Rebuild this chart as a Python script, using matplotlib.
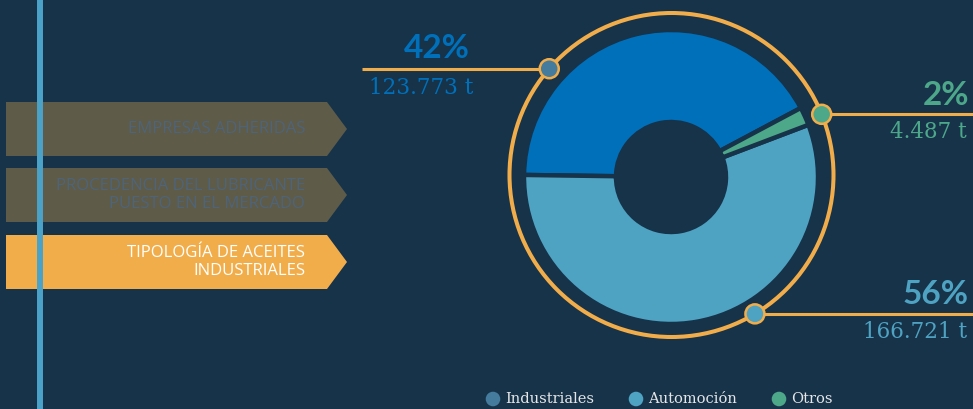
import numpy as np
import matplotlib.pyplot as plt
from matplotlib.patches import Polygon, Circle

# data
categories = ['Industriales', 'Automoción', 'Otros']
percent = [42, 56, 2]
tonnes = ['123.773 t', '166.721 t', '4.487 t']
slice_colors = ['#0070BA', '#4FA3C2', '#4DA88A']
legend_colors = ['#457B9D', '#4FA3C2', '#4DA88A']

menu_items = ['EMPRESAS ADHERIDAS',
              'PROCEDENCIA DEL LUBRICANTE\nPUESTO EN EL MERCADO',
              'TIPOLOGÍA DE ACEITES\nINDUSTRIALES']
menu_active = [False, False, True]

BG = '#16334A'
ORANGE = '#F2AD4B'
W, H = 973, 409

fig = plt.figure(figsize=(W / 100, H / 100), dpi=100, facecolor=BG)
ax = fig.add_axes([0, 0, 1, 1])
ax.set_facecolor(BG)


def Y(y):
    # image row -> data y
    return H - y


# donut
cx, cy = 671, Y(177)
ax.pie(percent, colors=slice_colors, startangle=28, counterclock=True,
       center=(cx, cy), radius=147, frame=True,
       wedgeprops=dict(width=92, edgecolor=BG, linewidth=3.2))

# orange ring
rcx, rcy, rr = 671.5, Y(175), 162
ax.add_patch(Circle((rcx, rcy), rr, fill=False, edgecolor=ORANGE, lw=2.9, zorder=3))

# callouts: marker angle on ring, line end x
marker_angle = [139, 301, 22]
line_end = [362, 973, 973]
for i in range(3):
    a = np.deg2rad(marker_angle[i])
    mx, my = rcx + rr * np.cos(a), rcy + rr * np.sin(a)
    ax.plot([mx, line_end[i]], [my, my], color=ORANGE, lw=2.2, zorder=4,
            solid_capstyle='butt')
    ax.add_patch(Circle((mx, my), 9.5, facecolor=legend_colors[i],
                        edgecolor=ORANGE, lw=1.8, zorder=5))
    pct_col = slice_colors[i]
    if i == 0:
        ax.text(437, my + 20, f'{percent[i]}%', ha='center', va='center',
                fontsize=24, fontweight='bold', family='Lato', color=pct_col)
        ax.text(369, my - 19, tonnes[i], ha='left', va='center',
                fontsize=15.5, family='DejaVu Serif', color=pct_col)
    else:
        ax.text(969, my + 19, f'{percent[i]}%', ha='right', va='center',
                fontsize=24, fontweight='bold', family='Lato', color=pct_col)
        ax.text(967, my - 18, tonnes[i], ha='right', va='center',
                fontsize=15.5, family='DejaVu Serif', color=pct_col)

# side menu arrows
tops = [102, 168, 235]
bh = 54
for top, label, active in zip(tops, menu_items, menu_active):
    y0, y1 = Y(top), Y(top + bh)
    ym = (y0 + y1) / 2
    poly = Polygon([(6, y0), (327, y0), (347, ym), (327, y1), (6, y1)],
                   closed=True, facecolor=ORANGE if active else '#5E5B49',
                   edgecolor='none', zorder=2)
    ax.add_patch(poly)
    ax.text(305, ym, label, ha='right', va='center', ma='right',
            fontsize=12, family='Open Sans', linespacing=1.2,
            color='white' if active else '#4E6479', zorder=3)

ax.plot([40, 40], [0, H], color='#4BA2C8', lw=4.3, zorder=6, solid_capstyle='butt')

# legend
leg_x = [493, 636, 779]
for x, name, col in zip(leg_x, categories, legend_colors):
    ax.scatter([x], [Y(399)], s=110, color=col, edgecolors='none', zorder=5)
    ax.text(x + 12, Y(399), name, ha='left', va='center', fontsize=10.5,
            family='DejaVu Serif', color='#E6E6E6')

ax.set_xlim(0, W)
ax.set_ylim(0, H)
ax.set_aspect('equal')
ax.axis('off')

fig.savefig('out.png', dpi=100, facecolor=BG)
